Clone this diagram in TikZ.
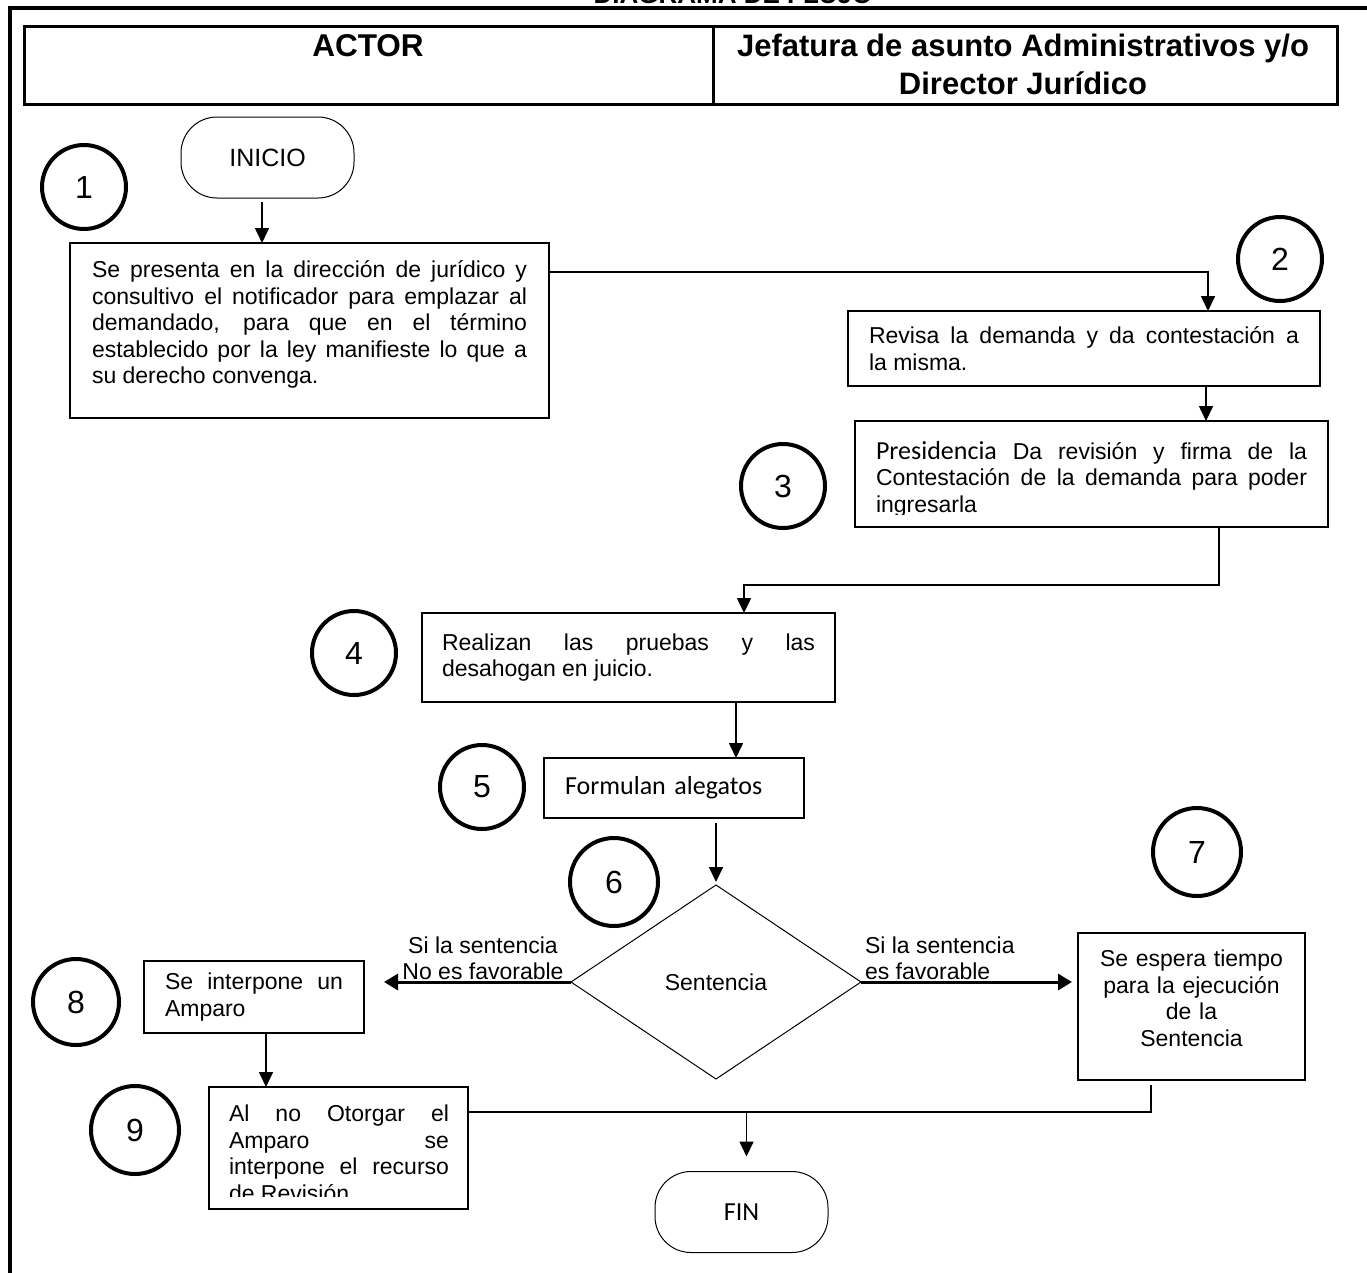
\documentclass[tikz,border=0pt]{standalone}
\usepackage{fontspec}
\setmainfont{Liberation Sans}
\newfontfamily\calib{Carlito}
\usetikzlibrary{arrows.meta,shapes.geometric}
\begin{document}
\begin{tikzpicture}[x=1pt,y=-1pt,
  every node/.style={inner sep=0pt, outer sep=0pt},
  pbox/.style={draw, line width=1.8pt},
  num/.style={circle, draw, line width=4pt, minimum size=84pt, font=\fontsize{32}{34}\selectfont},
  term/.style={draw, line width=1pt, rounded corners=36pt, minimum width=173pt, minimum height=81pt, font=\fontsize{25}{28}\selectfont},
  arr/.style={line width=1.6pt, -{Triangle[length=15pt,width=14pt]}},
  thickarr/.style={line width=3pt, -{Triangle[length=14pt,width=16pt]}},
  ln/.style={line width=1.6pt},
  body/.style={font=\fontsize{23}{26.5}\selectfont}
]
\useasboundingbox (0,0) rectangle (1367,1272);
\tolerance=10000 \hbadness=10000
% title (cut at top)
\node[anchor=base, font=\bfseries\fontsize{26}{30}\selectfont] (title) at (733,3) {DIAGRAMA DE FLUJO};
% outer frame
\draw[line width=3.5pt] (10,1280) -- (10,8) -- (1375,8);
% header
\draw[line width=3pt] (24,26) rectangle (1337,104);
\draw[line width=3pt] (713,26) -- (713,104);
\node[anchor=base, font=\bfseries\fontsize{31.5}{38}\selectfont] (hactor) at (368,56.7) {ACTOR};
\node[anchor=north, align=center, font=\bfseries\fontsize{31}{38}\selectfont] (hjef) at (1023,34) {Jefatura de asunto Administrativos y/o\\Director Jurídico};
% numbers
\node[num] (n1) at (84,187) {1};
\node[num] (n2) at (1280,259) {2};
\node[num] (n3) at (783,486) {3};
\node[num] (n4) at (354,653) {4};
\node[num] (n5) at (482,787) {5};
\node[num, minimum size=88pt] (n6) at (614,882) {6};
\node[num, minimum size=88pt] (n7) at (1197,852) {7};
\node[num, minimum size=86pt] (n8) at (76,1002) {8};
\node[num, minimum size=88pt] (n9) at (135,1130) {9};
% terminals
\node[term] (ini) at (267.5,157.5) {INICIO};
\node[term, font=\calib\fontsize{26}{30}\selectfont] (fin) at (741.5,1212) {FIN};
% boxes
\node[pbox, anchor=north west, inner xsep=22pt, inner ysep=18pt, body] (b1) at (70,243)
  {\parbox[t][139pt][t]{435pt}{Se presenta en la dirección de jurídico y\linebreak consultivo el notificador para emplazar al\linebreak demandado, para que en el término\linebreak establecido por la ley manifieste lo que a\linebreak su derecho convenga.}};
\node[pbox, anchor=north west, minimum width=472pt, minimum height=75pt, text width=430pt, align=justify, body] (b2) at (848,311)
  {Revisa la demanda y da contestación a\linebreak la misma.};
\node[pbox, anchor=north west, minimum width=473pt, minimum height=106pt] (b3) at (855,421) {};
\begin{scope}
  \clip (b3.north west) rectangle ([yshift=13pt]b3.south east);
  \node[anchor=north west, text width=431pt, align=justify, body] (t3) at ([xshift=21pt,yshift=-20pt]b3.north west)
    {{\calib\fontsize{26}{26.5}\selectfont Presidencia} Da revisión y firma de la\linebreak Contestación de la demanda para poder\linebreak ingresarla};
\end{scope}
\node[pbox, anchor=north west, minimum width=413pt, minimum height=89pt, text width=373pt, align=justify, body] (b4) at (422,613)
  {Realizan las pruebas y las\linebreak desahogan en juicio.};
\node[pbox, anchor=north west, minimum width=260pt, minimum height=60pt, text width=218pt, align=left, font=\calib\fontsize{26}{30}\selectfont] (b5) at (544,758)
  {Formulan alegatos};
\node[diamond, draw, line width=1pt, minimum width=290pt, minimum height=194pt, aspect=1.5, body] (dia) at (716,982) {Sentencia};
\node[pbox, anchor=north west, minimum width=227pt, minimum height=147pt, text width=200pt, align=center, body] (b7) at (1078,933)
  {Se espera tiempo\\para la ejecución\\de la\\Sentencia\\[-10pt]\mbox{}};
\node[pbox, anchor=north west, minimum width=220pt, minimum height=72pt, text width=178pt, align=justify, body] (b8) at (144,961)
  {Se interpone un\linebreak Amparo};
\node[pbox, anchor=north west, minimum width=259pt, minimum height=122pt] (b9) at (209,1087) {};
\begin{scope}
  \clip (b9.north west) rectangle ([yshift=13pt]b9.south east);
  \node[anchor=north west, text width=220pt, align=justify, body] (t9) at ([xshift=20pt,yshift=-18pt]b9.north west)
    {Al no Otorgar el\linebreak Amparo se\linebreak interpone el recurso\linebreak de Revisión};
\end{scope}
% labels
\node[anchor=south, align=center, body] (lblL) at (483,980) {Si la sentencia\\No es favorable};
\node[anchor=south west, align=left, body] (lblR) at (865,980) {Si la sentencia\\es favorable};
% coordinates
\coordinate (xa) at (262,0);
\coordinate (k1) at (1208,272);
\coordinate (xc) at (1206,0);
\coordinate (k3) at (1219,585);
\coordinate (k4) at (744,585);
\coordinate (xd) at (736,0);
\coordinate (xe) at (266,0);
\coordinate (j9) at (1151,1112);
\coordinate (j7) at (1151,1085);
\coordinate (jf) at (746.5,1112);
% connectors
\draw[arr, shorten <=4pt] (ini.south -| xa) -- (b1.north -| xa);
\draw[arr] (b1.east |- k1) -- (k1) -- (k1 |- b2.north);
\draw[arr] (b2.south -| xc) -- (b3.north -| xc);
\draw[arr] (b3.south -| k3) -- (k3) -- (k4) -- (k4 |- b4.north);
\draw[arr] (b4.south -| xd) -- (b5.north -| xd);
\draw[arr, shorten <=5pt, shorten >=3pt] (b5.south -| dia.north) -- (dia.north);
\draw[thickarr, shorten >=20pt] (dia.west) -- (b8.east |- dia.west);
\draw[thickarr, shorten >=6pt] (dia.east) -- (b7.west |- dia.east);
\draw[arr] (b8.south -| xe) -- (b9.north -| xe);
\draw[ln] (b9.east |- j9) -- (j9) -- (j7);
\draw[arr, shorten >=15pt] (jf) -- (jf |- fin.north);
\end{tikzpicture}
\end{document}
